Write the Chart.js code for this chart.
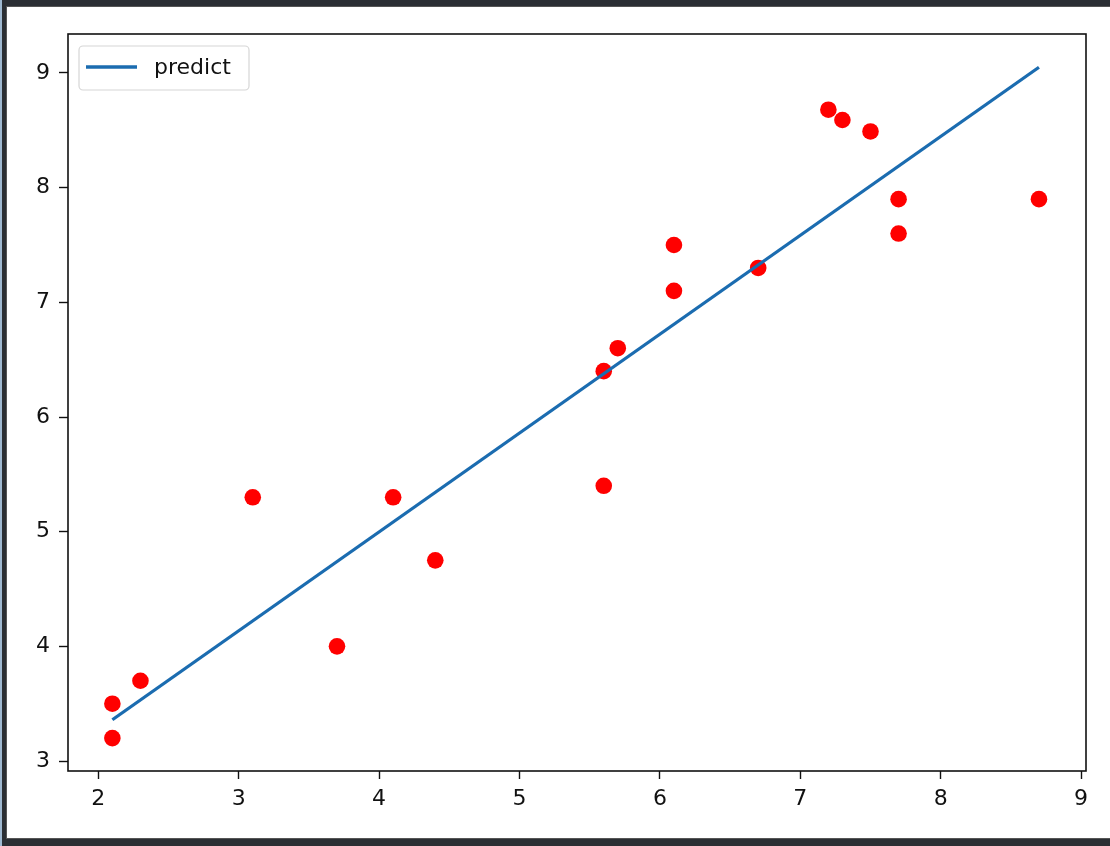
<!DOCTYPE html>
<html>
<head>
<meta charset="utf-8">
<script src="https://cdn.jsdelivr.net/npm/chart.js@4.4.1/dist/chart.umd.min.js"></script>
<style>
  html, body { margin:0; padding:0; background:#2b2e33; }
  body { width:1110px; height:846px; position:relative; overflow:hidden; }
  #frame { position:absolute; left:0; top:0; width:2px; height:846px; background:#9fb8d0; }
  #wrap { position:absolute; left:7px; top:7px; width:1103px; height:831px; background:#fff;
          box-shadow:0 0 0 1px #555; }
</style>
</head>
<body>
<div id="frame"></div>
<div id="wrap"><canvas id="c" width="1103" height="831"></canvas></div>
<script>
// scatter points
var ptX = [2.1, 2.1, 2.3, 3.1, 3.7, 4.1, 4.4, 5.6, 5.6, 5.7, 6.1, 6.1, 6.7, 7.2, 7.3, 7.5, 7.7, 7.7, 8.7];
var ptY = [3.5, 3.2, 3.7, 5.3, 4.0, 5.3, 4.75, 6.4, 5.4, 6.6, 7.5, 7.1, 7.3, 8.68, 8.59, 8.49, 7.9, 7.6, 7.9];

// fitted line end points
var lineX = [2.1, 8.7];
var lineY = [3.36, 9.05];

var xTicks = [2, 3, 4, 5, 6, 7, 8, 9];
var yTicks = [3, 4, 5, 6, 7, 8, 9];

var FONT = { family:'DejaVu Sans', size:22 };

function g(id) { return document.getElementById(id); }

function zip(xs, ys) {
  return xs.map(function(x, i) { return { x:x, y:ys[i] }; });
}

// plot frame + legend box, matplotlib style
var boxPlugin = {
  id: 'box',
  afterDraw: function(chart) {
    var a = chart.chartArea, ctx = chart.ctx;
    ctx.save();
    ctx.strokeStyle = '#111';
    ctx.lineWidth = 1.6;
    ctx.strokeRect(a.left, a.top, a.right - a.left, a.bottom - a.top);

    // legend
    var ds = chart.data.datasets[0];
    var lx = a.left + 11, ly = a.top + 12, lw = 170, lh = 44;
    ctx.fillStyle = 'rgba(255,255,255,0.8)';
    ctx.strokeStyle = '#d6d6d6';
    ctx.lineWidth = 1.2;
    ctx.beginPath();
    ctx.roundRect(lx, ly, lw, lh, 4);
    ctx.fill();
    ctx.stroke();
    ctx.strokeStyle = ds.borderColor;
    ctx.lineWidth = 3.3;
    ctx.beginPath();
    ctx.moveTo(lx + 7, ly + 21);
    ctx.lineTo(lx + 58, ly + 21);
    ctx.stroke();
    ctx.fillStyle = '#111';
    ctx.font = FONT.size + 'px ' + FONT.family;
    ctx.textBaseline = 'middle';
    ctx.fillText(ds.label, lx + 75, ly + 22);
    ctx.restore();
  }
};

new Chart(g('c').getContext('2d'), {
  type: 'scatter',
  data: {
    datasets: [
      {
        type: 'line',
        label: 'predict',
        data: zip(lineX, lineY),
        borderColor: '#1b6cb0',
        borderWidth: 3.3,
        pointRadius: 0,
        fill: false,
        tension: 0,
        order: 0
      },
      {
        label: 'data',
        data: zip(ptX, ptY),
        backgroundColor: '#ff0000',
        borderColor: '#ff0000',
        borderWidth: 0,
        pointRadius: 8.3,
        order: 1
      }
    ]
  },
  options: {
    responsive: false,
    animation: false,
    layout: { padding: { top:27, right:24, bottom:0, left:0 } },
    plugins: { legend: { display:false }, tooltip: { enabled:false } },
    scales: {
      x: {
        type: 'linear', min: 1.784, max: 9.035,
        afterBuildTicks: function(s) { s.ticks = xTicks.map(function(v){ return { value:v }; }); },
        afterFit: function(s) { s.height = 67; },
        grid: { drawOnChartArea:false, drawTicks:true, tickLength:8, color:'#111', tickWidth:1.4 },
        border: { display:false },
        ticks: { color:'#111', font:FONT, padding:7, maxRotation:0 }
      },
      y: {
        type: 'linear', min: 2.913, max: 9.34,
        afterBuildTicks: function(s) { s.ticks = yTicks.map(function(v){ return { value:v }; }); },
        afterFit: function(s) { s.width = 61; },
        grid: { drawOnChartArea:false, drawTicks:true, tickLength:9, color:'#111', tickWidth:1.4 },
        border: { display:false },
        ticks: { color:'#111', font:FONT, padding:9 }
      }
    }
  },
  plugins: [boxPlugin]
});
</script>
</body>
</html>
